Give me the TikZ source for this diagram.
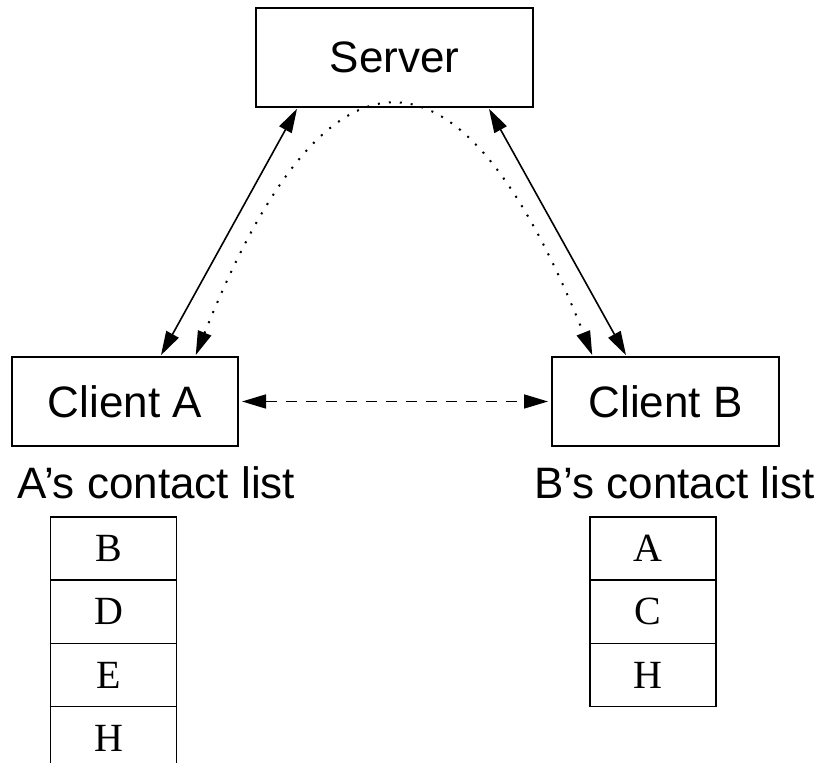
\documentclass[tikz,border=0pt]{standalone}
\usepackage{fontspec}
\setmainfont{Liberation Sans}
\newfontfamily\listfont{Liberation Serif}
\usepackage{tikz}
\usetikzlibrary{arrows.meta, positioning}

\begin{document}
\begin{tikzpicture}[x=0.5pt,y=-0.5pt,line width=0.8pt,
    >={Triangle[length=12pt,width=7pt]},shorten >=1pt,shorten <=1pt]
  \tikzstyle{host}=[draw,rectangle,inner sep=0pt,outer sep=0pt,
    font=\fontsize{22}{26}\selectfont]
  \tikzstyle{caption}=[inner sep=0pt,anchor=base,font=\fontsize{22}{26}\selectfont]
  \tikzstyle{cell}=[draw,rectangle,inner sep=0pt,outer sep=0pt,
    minimum width=63pt,minimum height=31.6pt,font=\listfont\fontsize{20}{23}\selectfont,
    execute at end node=\hspace*{5pt}]

  \useasboundingbox (0,0) rectangle (820,763);

  \node[host,minimum width=138.5pt,minimum height=49.5pt] (server)   at (394.5,57.5)  {Server};
  \node[host,minimum width=113pt,minimum height=44.5pt]   (client_a) at (125,401.5)   {Client A};
  \node[host,minimum width=113.5pt,minimum height=44.5pt] (client_b) at (665.5,401.5) {Client B};

  \node[caption] (list_a) at (156.5,499) {A's contact list};
  \node[caption] (list_b) at (674.5,499) {B's contact list};

  \node[cell]                  (a_b) at (113.5,548.6) {B};
  \node[cell,below=0pt of a_b] (a_d)                  {D};
  \node[cell,below=0pt of a_d] (a_e)                  {E};
  \node[cell,below=0pt of a_e] (a_h)                  {H};

  \node[cell]                  (b_a) at (653,548.6) {A};
  \node[cell,below=0pt of b_a] (b_c)                {C};
  \node[cell,below=0pt of b_c] (b_h)                {H};

  \path[<->]
  ([xshift=21pt]server.south west)    edge ([xshift=74pt]client_a.north west)
  ([xshift=-22.5pt]server.south east) edge ([xshift=37.5pt]client_b.north west)
  ;
  \draw[<->,line width=1pt,dash pattern=on 1pt off 4.5pt]
    ([xshift=91.5pt]client_a.north west)
    .. controls (327.7,25.3) and (460.3,25.3) ..
    ([xshift=20.5pt]client_b.north west);
  \draw[<->,dash pattern=on 5.5pt off 4.5pt,shorten >=2pt,shorten <=2pt]
    (client_a.east) -- (client_b.west);
\end{tikzpicture}
\end{document}
